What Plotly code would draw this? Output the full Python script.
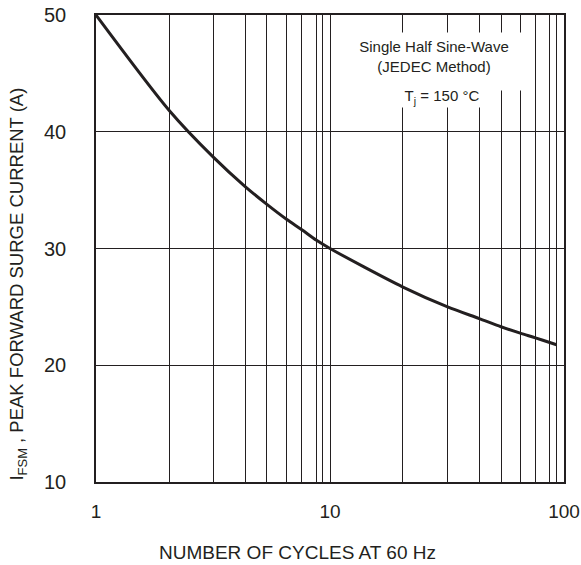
import plotly.graph_objects as go

# Curve (cycles at 60 Hz, peak forward surge current A)
cycles = [1, 2.06, 3.18, 4.34, 5.36, 6.52, 7.58, 8.76, 10, 20.5, 31.8, 43.4, 53.8, 65.0, 75.5, 86.9, 92.9]
surge_current = [50, 41.8, 37.8, 35.3, 33.8, 32.5, 31.6, 30.7, 30.0, 26.7, 25.0, 24.0, 23.3, 22.75, 22.35, 21.95, 21.76]

# Axis ticks and grid positions as drawn in the reference
x_tick_vals = [1, 10, 100]
x_tick_text = ["1", "10", "100"]
x_grid_minor = [2.06, 3.18, 4.34, 5.36, 6.52, 7.58, 8.76, 9.30,
                20.5, 31.8, 43.4, 53.8, 65.0, 75.5, 86.9, 92.9]
y_tick_vals = [10, 20, 30, 40, 50]

INK = "#231f20"
FONT = "Liberation Sans, Arial, sans-serif"

fig = go.Figure()
fig.add_trace(go.Scatter(
    x=cycles, y=surge_current, mode="lines",
    line=dict(color=INK, width=3, shape="spline", smoothing=0.8),
    hoverinfo="skip", showlegend=False,
))

fig.update_layout(
    template="none",
    width=581, height=565,
    margin=dict(l=96, r=17, t=15, b=83, autoexpand=False),
    paper_bgcolor="white", plot_bgcolor="white",
    font=dict(family=FONT, color=INK, size=20),
    showlegend=False,
)

fig.update_xaxes(
    type="log", range=[0, 2], automargin=False,
    tickmode="array", tickvals=x_tick_vals, ticktext=x_tick_text,
    ticks="", ticklabelstandoff=11,
    tickfont=dict(size=19, color=INK, family=FONT),
    showgrid=True, gridcolor=INK, gridwidth=1.1,
    minor=dict(tickmode="array", tickvals=x_grid_minor, showgrid=True,
               gridcolor=INK, gridwidth=1.1, ticks=""),
    showline=True, linecolor=INK, linewidth=1.5, mirror=True,
)
fig.update_yaxes(
    range=[10, 50], automargin=False, tickmode="array", tickvals=y_tick_vals,
    ticks="", ticklabelstandoff=24,
    tickfont=dict(size=20, color=INK, family=FONT),
    showgrid=True, gridcolor=INK, gridwidth=1.1,
    zeroline=False,
    showline=True, linecolor=INK, linewidth=1.5, mirror=True,
)

# Axis titles as annotations (positioned like the reference)
fig.add_annotation(
    text="NUMBER OF CYCLES AT 60 Hz", xref="paper", yref="paper",
    x=0.430, y=-0.152, xanchor="center", yanchor="middle", showarrow=False,
    font=dict(size=19, color=INK, family=FONT),
)
fig.add_annotation(
    text="I<sub>FSM</sub> , PEAK FORWARD SURGE CURRENT (A)", xref="paper", yref="paper",
    x=-0.166, y=0.4235, xanchor="center", yanchor="middle", showarrow=False,
    textangle=-90, font=dict(size=18.5, color=INK, family=FONT),
)

# In-plot labels with white background covering the grid
fig.add_annotation(
    text="Single Half Sine-Wave<br>(JEDEC Method)", xref="paper", yref="paper",
    x=0.7218, y=0.900, xanchor="center", yanchor="middle", showarrow=False,
    width=176, height=47, bgcolor="white", borderpad=5, align="center", valign="top",
    font=dict(size=15, color=INK, family=FONT),
)
fig.add_annotation(
    text="T<sub>j</sub> = 150 °C", xref="paper", yref="paper",
    x=0.740, y=0.824, xanchor="center", yanchor="middle", showarrow=False,
    width=104, height=20, bgcolor="white", borderpad=0, align="center",
    font=dict(size=15, color=INK, family=FONT),
)

fig.write_html(
    "out.html",
    config={"displayModeBar": False},
    post_script="document.body.style.margin='0';document.body.style.padding='0';",
)
